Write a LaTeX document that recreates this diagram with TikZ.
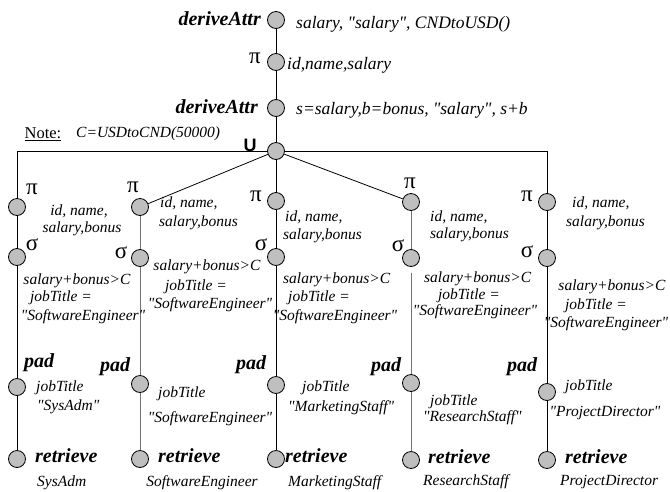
\documentclass[tikz,border=0pt]{standalone}
\usepackage{fontspec}
\setmainfont{Liberation Serif}[Ligatures=TeXOff]
\newfontfamily\usans{Liberation Sans}
\begin{document}
\begin{tikzpicture}[x=1pt,y=-1pt,
  op/.style={circle,draw,fill=gray!50,minimum size=17pt,inner sep=0pt,line width=0.8pt},
  blab/.style={inner sep=0pt,font=\fontsize{20}{22}\selectfont\bfseries\itshape},
  gk/.style={inner sep=0pt,font=\fontsize{23}{25}\selectfont},
  tx/.style={inner sep=0pt,font=\fontsize{15.5}{17}\selectfont\itshape},
  ttop/.style={inner sep=0pt,font=\fontsize{17.5}{19}\selectfont\itshape},
  edge/.style={line width=0.8pt},
  gedge/.style={line width=0.8pt,draw=black!55}]
\useasboundingbox (0,0) rectangle (670,491);

% ---------- main column ----------
\node[op] (d1) at (276,20) {};
\node[op] (p0) at (276,62) {};
\node[op] (d2) at (276,108) {};
\node[op] (u)  at (276,151) {};

\node[blab,anchor=east] (d1l) at (261,19) {deriveAttr};
\node[ttop,anchor=west] (d1t) at (296,24) {salary, "salary", CNDtoUSD()};
\node[gk] (p0l) at (255,58) {π};
\node[ttop,anchor=west] (p0t) at (287,65) {id,name,salary};
\node[blab,anchor=east] (d2l) at (258,107) {deriveAttr};
\node[ttop,anchor=west] (d2t) at (296,110) {s=salary,b=bonus, "salary", s+b};
\node[inner sep=0pt,font=\fontsize{16.5}{18}\selectfont] (note) at (43,134) {\underline{Note:}};
\node[tx,anchor=west] (notet) at (76,134) {C=USDtoCND(50000)};
\node[inner sep=0pt,font=\usans\fontsize{18}{20}\selectfont\bfseries] (ul) at (250,145) {U};

% ---------- column nodes ----------
% col 1
\node[op] (c1p) at (17,207) {};
\node[op] (c1s) at (17,257) {};
\node[op] (c1d) at (17,387) {};
\node[op] (c1r) at (17,459) {};
% col 2
\node[op] (c2p) at (140,207) {};
\node[op] (c2s) at (140,258) {};
\node[op] (c2d) at (140,384) {};
\node[op] (c2r) at (140,459) {};
% col 3
\node[op] (c3p) at (276,201) {};
\node[op] (c3s) at (276,257) {};
\node[op] (c3d) at (276,385) {};
\node[op] (c3r) at (276,459) {};
% col 4
\node[op] (c4p) at (411,202) {};
\node[op] (c4s) at (411,258) {};
\node[op] (c4d) at (411,383) {};
\node[op] (c4r) at (411,460) {};
% col 5
\node[op] (c5p) at (547,202) {};
\node[op] (c5s) at (547,258) {};
\node[op] (c5d) at (547,392) {};
\node[op] (c5r) at (547,460) {};

% ---------- connectors ----------
\draw[edge] (d1) -- (p0);
\draw[edge] (p0) -- (d2);
\draw[edge] (d2) -- (u);
\draw[edge] (u) -| (c1p);
\draw[edge] (u) -| (c5p);
\draw[edge] (u) -- (c2p);
\draw[edge] (u) -- (c3p);
\draw[edge] (u) -- (c4p);

\draw[edge] (c1p) -- (c1s);
\draw[edge] (c1s) -- (c1d);
\draw[edge] (c1d) -- (c1r);
\draw[gedge] (c2p) -- (c2s);
\draw[gedge] (c2s) -- (c2d);
\draw[gedge] (c2d) -- (c2r);
\draw[edge] (c3p) -- (c3s);
\draw[edge] (c3s) -- (c3d);
\draw[edge] (c3d) -- (c3r);
\draw[gedge] (c4p) -- (c4s);
\draw[gedge,shorten <=6pt] (c4s) -- (c4d);
\draw[gedge] (c4d) -- (c4r);
\draw[edge] (c5p) -- (c5s);
\draw[edge] (c5s) -- (c5d);
\draw[edge] (c5d) -- (c5r);

% ---------- column 1 texts ----------
\node[gk] (c1pl) at (32,189) {π};
\node[tx] (c1pt1) at (79,211) {id, name,};
\node[tx] (c1pt2) at (82,229) {salary,bonus};
\node[gk] (c1sl) at (32,245) {σ};
\node[tx] (c1st1) at (77,281) {salary+bonus>C};
\node[tx] (c1st2) at (61,298) {jobTitle =};
\node[tx] (c1st3) at (83,317) {"SoftwareEngineer"};
\node[blab] (c1dl) at (39,363) {pad};
\node[tx,anchor=west] (c1dt1) at (36,388) {jobTitle};
\node[tx,anchor=west] (c1dt2) at (37,407) {"SysAdm"};
\node[blab,anchor=west] (c1rl) at (35,456) {retrieve};
\node[tx,anchor=west] (c1rt) at (37,483) {SysAdm};

% ---------- column 2 texts ----------
\node[gk] (c2pl) at (133,187) {π};
\node[tx,anchor=west] (c2pt1) at (160,203) {id, name,};
\node[tx,anchor=west] (c2pt2) at (159,223) {salary,bonus};
\node[gk] (c2sl) at (121,253) {σ};
\node[tx] (c2st1) at (207,267) {salary+bonus>C};
\node[tx] (c2st2) at (196,287) {jobTitle =};
\node[tx] (c2st3) at (210,305) {"SoftwareEngineer"};
\node[blab] (c2dl) at (115,367) {pad};
\node[tx,anchor=west] (c2dt1) at (158,394) {jobTitle};
\node[tx] (c2dt2) at (210,419) {"SoftwareEngineer"};
\node[blab,anchor=west] (c2rl) at (158,456) {retrieve};
\node[tx] (c2rt) at (202,483) {SoftwareEngineer};

% ---------- column 3 texts ----------
\node[gk] (c3pl) at (256,196) {π};
\node[tx,anchor=west] (c3pt1) at (285,217) {id, name,};
\node[tx,anchor=west] (c3pt2) at (283,236) {salary,bonus};
\node[gk] (c3sl) at (261,245) {σ};
\node[tx,anchor=west] (c3st1) at (283,280) {salary+bonus>C};
\node[tx,anchor=west] (c3st2) at (288,298) {jobTitle =};
\node[tx] (c3st3) at (335,317) {"SoftwareEngineer"};
\node[blab] (c3dl) at (251,365) {pad};
\node[tx,anchor=west] (c3dt1) at (302,388) {jobTitle};
\node[tx,anchor=west] (c3dt2) at (288,408) {"MarketingStaff"};
\node[blab,anchor=west] (c3rl) at (285,456) {retrieve};
\node[tx,anchor=west] (c3rt) at (288,483) {MarketingStaff};

% ---------- column 4 texts ----------
\node[gk] (c4pl) at (410,183) {π};
\node[tx,anchor=west] (c4pt1) at (430,217) {id, name,};
\node[tx,anchor=west] (c4pt2) at (430,235) {salary,bonus};
\node[gk] (c4sl) at (398,246) {σ};
\node[tx,anchor=west] (c4st1) at (424,279) {salary+bonus>C};
\node[tx] (c4st2) at (469,296) {jobTitle =};
\node[tx] (c4st3) at (475,312) {"SoftwareEngineer"};
\node[blab] (c4dl) at (386,367) {pad};
\node[tx,anchor=west] (c4dt1) at (430,402) {jobTitle};
\node[tx,anchor=west] (c4dt2) at (423,418) {"ResearchStaff"};
\node[blab,anchor=west] (c4rl) at (428,457) {retrieve};
\node[tx,anchor=west] (c4rt) at (423,482) {ResearchStaff};

% ---------- column 5 texts ----------
\node[gk] (c5pl) at (527,196) {π};
\node[tx,anchor=west] (c5pt1) at (572,203) {id, name,};
\node[tx,anchor=west] (c5pt2) at (566,223) {salary,bonus};
\node[gk] (c5sl) at (527,252) {σ};
\node[tx] (c5st1) at (612,287) {salary+bonus>C};
\node[tx] (c5st2) at (596,306) {jobTitle =};
\node[tx] (c5st3) at (606,324) {"SoftwareEngineer"};
\node[blab] (c5dl) at (522,367) {pad};
\node[tx,anchor=west] (c5dt1) at (565,387) {jobTitle};
\node[tx] (c5dt2) at (605,413) {"ProjectDirector"};
\node[blab,anchor=west] (c5rl) at (565,457) {retrieve};
\node[tx,anchor=west] (c5rt) at (560,482) {ProjectDirector};
\end{tikzpicture}
\end{document}
